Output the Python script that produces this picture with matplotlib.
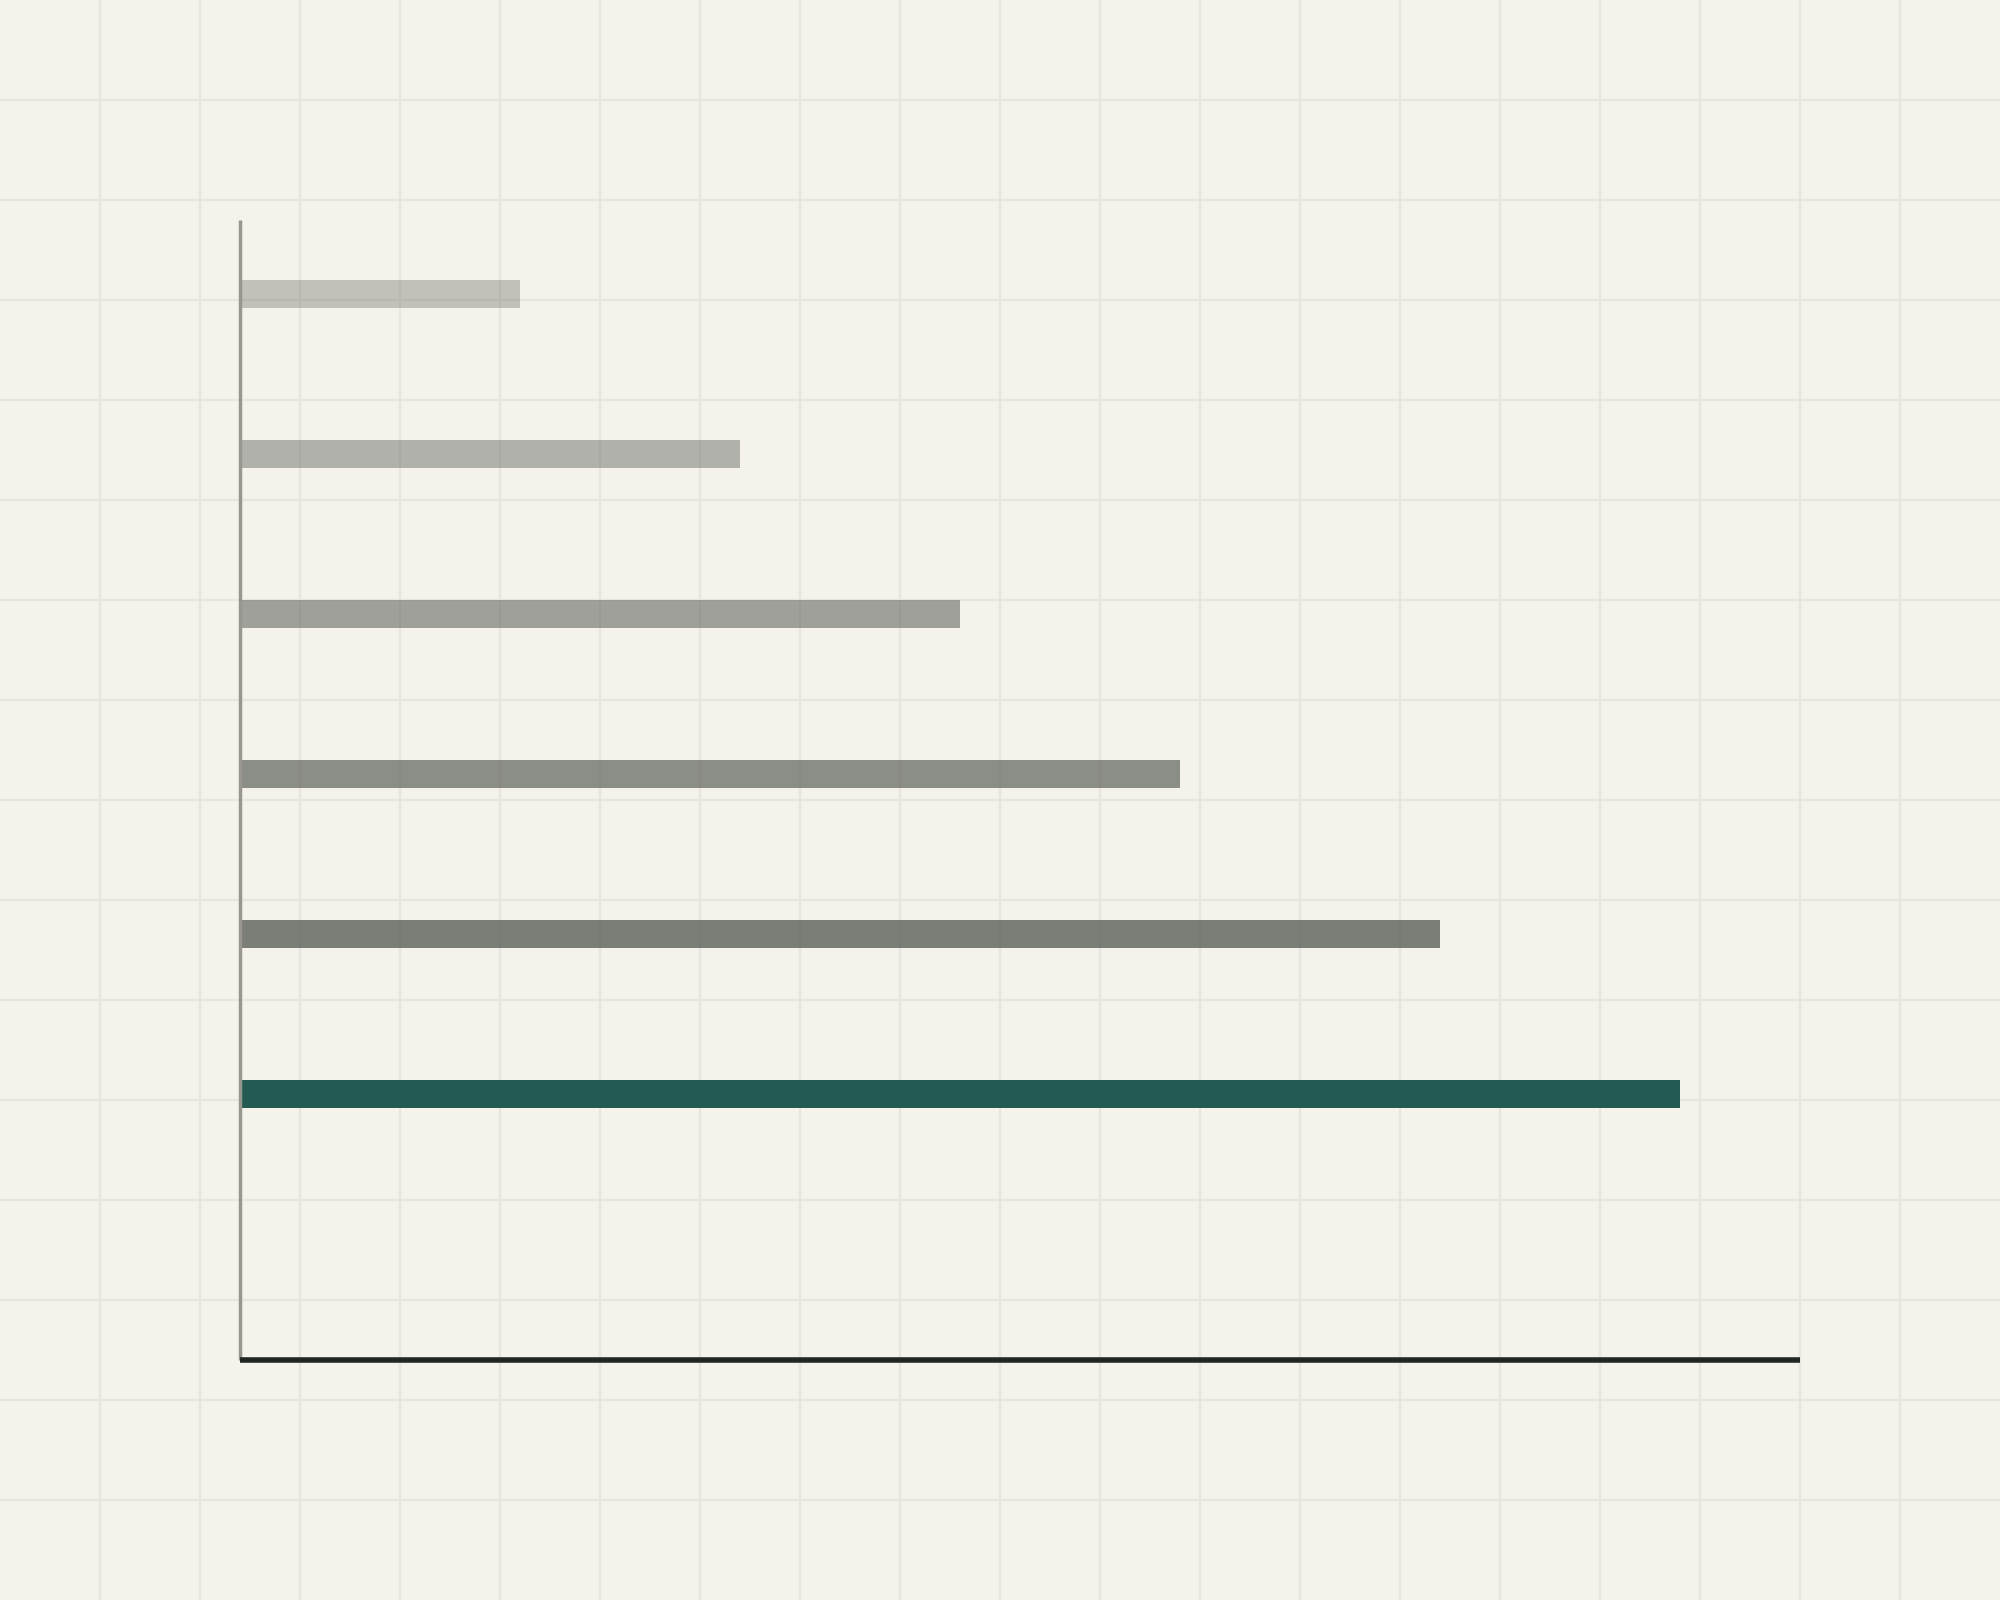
import matplotlib
matplotlib.use("Agg")
import matplotlib.pyplot as plt
import numpy as np

# Data
categories = ["A", "B", "C", "D", "E", "F"]
values = [14, 25, 36, 47, 60, 72]
bar_colors = ["#5f625d", "#5f625d", "#5f625d", "#5f625d", "#5f625d", "#235a52"]
bar_alphas = [0.34, 0.45, 0.57, 0.70, 0.81, 1.0]

BG = "#f4f2ea"
GRID = "#e8e5de"

fig = plt.figure(figsize=(20, 16), dpi=100, facecolor=BG)

# background page grid spanning the whole figure
bg = fig.add_axes([0, 0, 1, 1], zorder=0)
bg.set_facecolor(BG)
bg.set_xlim(0, 20)
bg.set_ylim(0, 16)
bg.set_xticks(np.arange(1, 20))
bg.set_yticks(np.arange(1, 16))
bg.grid(True, color=GRID, linewidth=1.6)
bg.tick_params(length=0, labelbottom=False, labelleft=False)
for s in bg.spines.values():
    s.set_visible(False)

ax = fig.add_axes([0.12, 0.15, 0.78, 0.7125], zorder=1)
ax.patch.set_alpha(0)
y = np.arange(len(categories))
for yi, v, c, a in zip(y, values, bar_colors, bar_alphas):
    ax.barh(yi, v, height=0.175, color=c, alpha=a, linewidth=0)

ax.set_xlim(0, 78)
ax.set_ylim(6.6625, -0.4625)
ax.set_xticks([])
ax.set_yticks([])
ax.spines["top"].set_visible(False)
ax.spines["right"].set_visible(False)
ax.spines["left"].set_color("#97978f")
ax.spines["left"].set_linewidth(2.5)
ax.spines["left"].set_capstyle("butt")
ax.spines["bottom"].set_color("#1e2522")
ax.spines["bottom"].set_linewidth(4)
ax.spines["bottom"].set_capstyle("butt")

fig.savefig("out.png", dpi=100, facecolor=BG)
